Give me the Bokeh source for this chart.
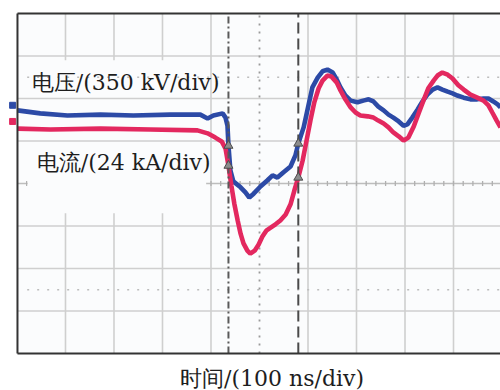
import numpy as np
from bokeh.plotting import figure
from bokeh.models import Range1d
from bokeh.core.properties import value
from bokeh.embed import file_html
from bokeh.resources import INLINE

# ---- data (time in ns, amplitude in screen divisions) ----
t_voltage = [-499, -452, -396, -328, -260, -184, -122, -107, -95, -76, -70, -66, -64, -60, -54,
             -39, -29, -21, -12, 2, 16, 27, 37, 49, 64, 74, 80, 91, 101, 109, 120, 130, 140,
             151, 159, 167, 177, 188, 202, 214, 225, 235, 245, 256, 266, 276, 287, 297, 305,
             315, 326, 336, 346, 357, 367, 377, 388, 398, 408, 421, 435, 449, 462, 472, 482,
             491, 497]
voltage_div = [1.72, 1.65, 1.60, 1.62, 1.60, 1.62, 1.62, 1.53, 1.60, 1.65, 1.55, 1.36, 0.89,
               0.31, 0.05, -0.09, -0.21, -0.33, -0.24, -0.07, 0.07, 0.19, 0.14, 0.26, 0.40,
               0.66, 0.94, 1.32, 1.84, 2.26, 2.49, 2.64, 2.68, 2.61, 2.45, 2.26, 2.07, 1.95,
               1.91, 1.95, 1.98, 1.93, 1.81, 1.72, 1.62, 1.55, 1.46, 1.36, 1.39, 1.55, 1.74,
               1.93, 2.09, 2.21, 2.26, 2.21, 2.16, 2.12, 2.07, 2.02, 1.98, 1.98, 2.00, 2.00,
               1.93, 1.86, 1.79]

t_current = [-499, -431, -328, -225, -128, -107, -91, -78, -70, -64, -58, -52, -45, -39, -33,
             -25, -19, -10, -2, 6, 14, 23, 33, 43, 54, 64, 72, 80, 89, 97, 105, 113, 122, 130,
             140, 148, 159, 167, 177, 188, 198, 208, 223, 235, 245, 256, 266, 276, 287, 297,
             307, 318, 328, 338, 348, 359, 367, 377, 388, 398, 410, 421, 435, 449, 462, 472,
             480, 489, 497]
current_div = [1.29, 1.27, 1.29, 1.27, 1.25, 1.18, 1.08, 0.99, 0.82, 0.42, -0.05, -0.47, -0.87,
               -1.18, -1.41, -1.58, -1.65, -1.58, -1.44, -1.25, -1.11, -1.04, -0.96, -0.87,
               -0.73, -0.49, -0.16, 0.14, 0.54, 1.01, 1.48, 1.91, 2.24, 2.42, 2.54, 2.52, 2.38,
               2.19, 1.98, 1.79, 1.67, 1.60, 1.58, 1.55, 1.48, 1.41, 1.32, 1.20, 1.11, 1.01,
               1.08, 1.34, 1.65, 1.95, 2.24, 2.42, 2.54, 2.61, 2.56, 2.47, 2.31, 2.21, 2.09,
               2.02, 1.95, 1.84, 1.67, 1.48, 1.32]

x_grid_ns = [-400, -300, -200, -100, 100, 200, 300, 400]
y_grid_div = [-3, -2, -1, 1, 2, 3]
x_frame = [-499, 497]
y_frame = [-4, 4]
rise_marks_div = [-2.5, 2.5]
cursor_ns = [-64, 80]
channel_levels = [1.84, 1.46]
label_voltage = "电压/(350 kV/div)"
label_current = "电流/(24 kA/div)"
x_label = "时间/(100 ns/div)"

BLUE = "#2c4aa6"
RED = "#e3285f"
GRID = "#cfcfcf"
FONT = "DejaVu Serif"

p = figure(width=500, height=390, x_range=Range1d(-517.5, 496.9),
           y_range=Range1d(-4.871, 4.047), output_backend="svg", toolbar_location=None,
           x_axis_location=None, y_axis_location=None,
           min_border_left=8, min_border_right=0, min_border_top=11, min_border_bottom=0,
           outline_line_color=None, background_fill_color="white",
           border_fill_color="white")
for g in p.grid:
    g.visible = False

# screen area background
p.quad(left=[x_frame[0]], right=[x_frame[1] + 20], bottom=[y_frame[0]], top=[y_frame[1]],
       fill_color="#fbfcfd", line_color=None)

# vertical grid lines
p.segment(x0=x_grid_ns, y0=[y_frame[0]] * len(x_grid_ns), x1=x_grid_ns,
          y1=[y_frame[1]] * len(x_grid_ns), line_color=GRID, line_width=1.6)
# centre horizontal axis with tick marks
p.segment(x0=[x_frame[0]], y0=[0], x1=[x_frame[1]], y1=[0], line_color="#bdbdbd", line_width=1.6)
tx = np.arange(-480, 497, 20)
p.scatter(tx, np.zeros_like(tx), marker="dash", angle=np.pi / 2, size=5,
          line_color="#b0b0b0", line_width=1.3)

# blanked area behind labels
p.quad(left=[-478], right=[-110], bottom=[-0.7], top=[2.9],
       fill_color="#fbfcfd", line_color=None)

# horizontal grid lines
p.segment(x0=[x_frame[0]] * len(y_grid_div), y0=y_grid_div,
          x1=[x_frame[1]] * len(y_grid_div), y1=y_grid_div, line_color=GRID, line_width=1.6)
# rise-time dotted lines
p.segment(x0=[x_frame[0] + 20] * 2, y0=rise_marks_div, x1=[x_frame[1]] * 2, y1=rise_marks_div,
          line_color="#bdbdbd", line_width=1.5, line_dash="2 8")
# centre vertical dotted axis
p.segment(x0=[0], y0=[y_frame[0]], x1=[0], y1=[y_frame[1]], line_color="#9a9a9a",
          line_width=1.8, line_dash="2 6")

# traces
p.line(t_voltage, voltage_div, line_color=BLUE, line_width=4.6)
p.line(t_current, current_div, line_color=RED, line_width=4.6)

# cursors
p.segment(x0=[cursor_ns[0]], y0=[y_frame[0]], x1=[cursor_ns[0]], y1=[y_frame[1]],
          line_color="#5a5a5a", line_width=2, line_dash="7 3 2 3")
p.segment(x0=[cursor_ns[1]], y0=[y_frame[0]], x1=[cursor_ns[1]], y1=[y_frame[1]],
          line_color="#4a4a4a", line_width=2, line_dash="11 5")

# cursor intersection markers
mx, my = [], []
for c in cursor_ns:
    mx += [c, c]
    my += [float(np.interp(c, t_voltage, voltage_div)), float(np.interp(c, t_current, current_div))]
p.scatter(mx, my, marker="triangle", size=9, fill_color="#8c8c8c", line_color="#4d4d4d",
          line_width=1)

# channel markers on the left edge
p.scatter([-509, -509], channel_levels, marker="square", size=6,
          fill_color=[BLUE, RED], line_color=[BLUE, RED])

# frame (left, top, bottom)
p.segment(x0=[x_frame[0], x_frame[0], x_frame[0]], y0=[y_frame[0], y_frame[1], y_frame[0]],
          x1=[x_frame[0], 520, 520], y1=[y_frame[1], y_frame[1], y_frame[0]],
          line_color="#333333", line_width=2)

# channel labels
p.text(x=[-276], y=[2.38], text=[label_voltage], text_align="center",
       text_baseline="middle", text_font=value(FONT), text_font_size="22px",
       text_color="#1e1e1e")
p.text(x=[-280], y=[0.49], text=[label_current], text_align="center",
       text_baseline="middle", text_font=value(FONT), text_font_size="22px",
       text_color="#1e1e1e")

# x axis caption below the screen
p.text(x=[26], y=[-4.6], text=[x_label], text_align="center", text_baseline="middle",
       text_font=value(FONT), text_font_size="22px", text_color="#1e1e1e")

open("out.html", "w").write(file_html(p, INLINE))
